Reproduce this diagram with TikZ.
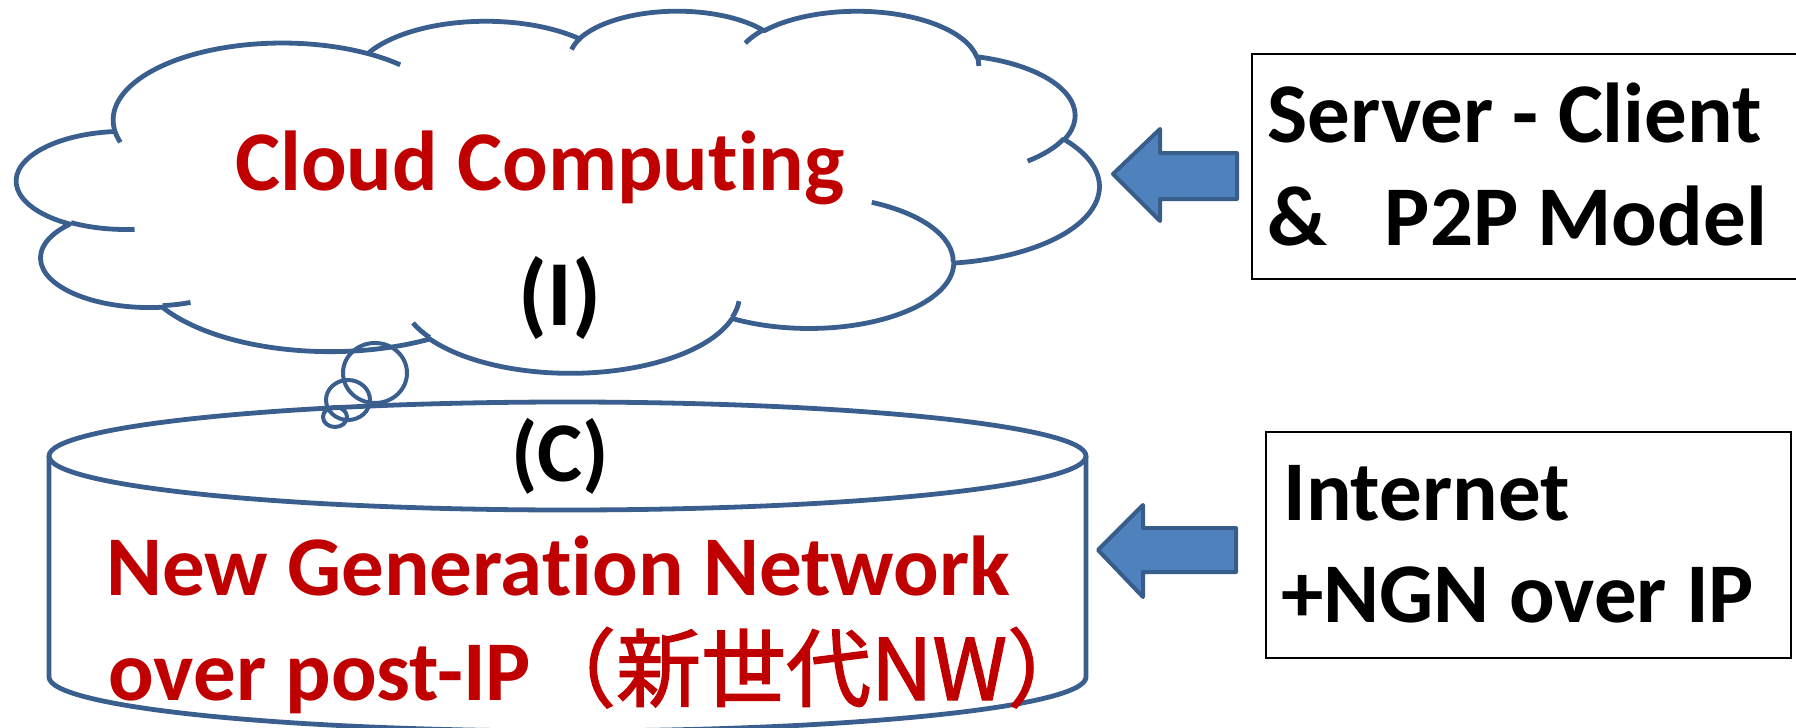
\documentclass[tikz,border=0pt]{standalone}
\usepackage{fontspec}
\setmainfont{Carlito}[Ligatures=CommonOff]
\newfontfamily\cjkfont{Noto Sans CJK JP}[FakeBold=1.6]
\definecolor{outline}{HTML}{3A5F8F}
\definecolor{arrowfill}{HTML}{4F81BD}
\definecolor{arrowline}{HTML}{385D8A}
\definecolor{titlered}{HTML}{C00000}

% elliptical arc given by radii, start angle and sweep measured on the
% ellipse itself (angle seen from the centre, y pointing down)
\newcommand\ooarcstyle[5]{%
  \pgfmathsetmacro\oaS{atan2((#2)*sin(#4),(#3)*cos(#4))}%
  \pgfmathsetmacro\oaE{atan2((#2)*sin((#4)+(#5)),(#3)*cos((#4)+(#5)))}%
  \pgfmathsetmacro\oaE{\oaS+mod(\oaE-\oaS+720,360)}%
  \edef\oaTmp{\noexpand\tikzset{#1/.style={x radius=#2,y radius=#3,start angle=\oaS,end angle=\oaE}}}%
  \oaTmp}

% outer lobes of the cloud
\ooarcstyle{cA}{67.53}{91.90}{-190.48748}{123.78053}
\ooarcstyle{cB}{53.33}{72.67}{-144.10238}{89.94523}
\ooarcstyle{cC}{43.65}{59.45}{-145.80792}{99.72302}
\ooarcstyle{cD}{48.57}{65.95}{-130.98607}{117.24173}
\ooarcstyle{cE}{53.33}{72.73}{-78.70888}{109.02692}
\ooarcstyle{cF}{67.75}{92.20}{-46.26725}{130.269}
\ooarcstyle{cG}{57.85}{78.67}{0.62502}{114.03333}
\ooarcstyle{cH}{67.52}{92.15}{22.4516}{115.17255}
\ooarcstyle{cI}{77.20}{105.43}{66.24263}{75.71102}
\ooarcstyle{cJ}{43.60}{59.18}{-274.94208}{146.73557}
\ooarcstyle{cK}{43.45}{59.45}{-246.8285}{152.51885}
% short inner strokes where the lobes overlap
\ooarcstyle{iA}{43.45}{59.45}{86.742}{26.4295}
\ooarcstyle{iB}{43.60}{59.18}{73.61047}{11.44747}
\ooarcstyle{iC}{67.52}{92.15}{137.62415}{14.0811}
\ooarcstyle{iD}{67.52}{92.15}{6.45327}{15.99835}
\ooarcstyle{iE}{57.85}{78.67}{-70.29235}{70.91737}
\ooarcstyle{iF}{53.33}{72.73}{30.31803}{27.7515}
\ooarcstyle{iG}{48.57}{65.95}{-13.74433}{14.8589}
\ooarcstyle{iH}{48.57}{65.95}{-149.18145}{18.19537}
\ooarcstyle{iI}{43.65}{59.45}{-163.49427}{17.6874}
\ooarcstyle{iJ}{67.53}{91.90}{-66.70695}{12.31935}
\ooarcstyle{iK}{67.53}{91.90}{157.65435}{11.85817}

\begin{document}
\begin{tikzpicture}[x=0.5pt,y=-0.5pt,
  shapeline/.style={draw=outline, line width=2.4pt},
  bubble/.style={draw=outline, line width=2pt},
  blockarrow/.style={fill=arrowfill, draw=arrowline, line width=2pt, line join=round},
  infobox/.style={draw=black, line width=1pt, inner sep=0pt, anchor=north west},
  redtext/.style={text=titlered, font=\fontsize{42.5}{50}\selectfont\bfseries, inner sep=0pt},
  blacktext/.style={text=black, font=\fontsize{42.5}{50}\selectfont\bfseries, inner sep=0pt}]
\useasboundingbox (0,0) rectangle (1796,728);

% cylinder: network layer
\draw[shapeline] (567.5,456) ellipse[x radius=518.5, y radius=54];
\draw[shapeline] (49,456) -- (49,677)
  arc[start angle=180, end angle=0, x radius=518.5, y radius=54] -- (1086,456);

% cloud: computing layer
\begin{scope}[shift={(17,10)}, x=1.2523pt, y=-0.41898pt]
  \draw[shapeline, line join=round] (39.00,143.70)
    arc[cA] arc[cB] arc[cC] arc[cD] arc[cE] arc[cF]
    arc[cG] arc[cH] arc[cI] arc[cJ] arc[cK] -- cycle;
  \draw[shapeline]
    (46.93,261.77) arc[iA]
    (69.28,348.99) arc[iB]
    (164.78,390.90) arc[iC]
    (288.27,347.51) arc[iD]
    (341.29,229.54) arc[iE]
    (417.98,153.54) arc[iF]
    (383.24,54.26) arc[iG]
    (290.78,39.52) arc[iH]
    (221.41,47.20) arc[iI]
    (140.00,51.92) arc[iJ]
    (41.27,157.89) arc[iK];
\end{scope}

% thought bubbles linking cloud and cylinder
\draw[bubble] (375,373) ellipse[x radius=32, y radius=30];
\draw[bubble] (348,400) ellipse[x radius=22, y radius=20];
\draw[bubble] (335,417) ellipse[x radius=12, y radius=10];

% labels inside the shapes
\node[redtext, anchor=base] (cloudtitle) at (540,190) {Cloud Computing};
\node[blacktext, anchor=base, font=\fontsize{46.5}{54}\selectfont\bfseries] (layerI) at (560,325) {(I)};
\node[blacktext, anchor=base, font=\fontsize{42.5}{50}\selectfont\bfseries] (layerC) at (560,481) {(C)};
\node[redtext, anchor=base west] (ngnA) at (106,595) {New Generation Network};
\node[redtext, anchor=base west] (ngnB) at (108,700) {over post-IP{\cjkfont\mdseries（新世代NW）}};

% side boxes
\node[infobox, minimum width=274.5pt, minimum height=112.5pt] (srvbox) at (1251,53) {};
\node[infobox, minimum width=262.5pt, minimum height=113pt] (netbox) at (1265,431) {};
\node[blacktext, anchor=base west] (srvA) at (1267,142) {Server - Client};
\node[blacktext, anchor=base west] (srvB) at (1267,245) {\&~~~P2P Model};
\node[blacktext, anchor=base west] (netA) at (1283,520) {Internet};
\node[blacktext, anchor=base west] (netB) at (1281,622) {+NGN over IP};

% block arrows pointing from the boxes to the layers
\draw[blockarrow] (1113,174) -- (1160,129) -- (1160,153) -- (1237,153)
  -- (1237,199) -- (1160,199) -- (1160,221) -- cycle;
\draw[blockarrow] (1098,550) -- (1143,505) -- (1143,528) -- (1236,528)
  -- (1236,572) -- (1143,572) -- (1143,597) -- cycle;
\end{tikzpicture}
\end{document}
